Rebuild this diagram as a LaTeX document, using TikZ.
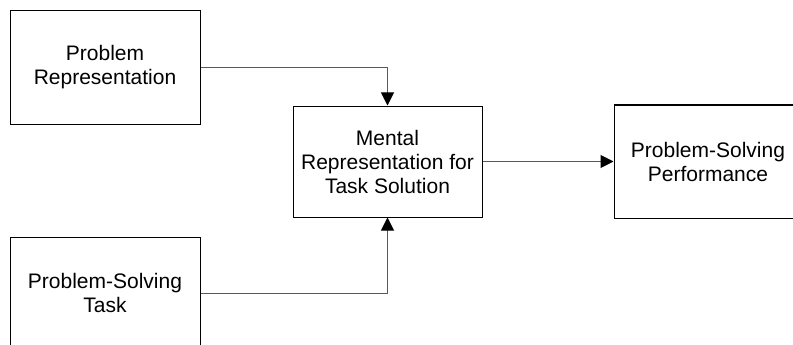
\documentclass[tikz,border=0pt]{standalone}
\usepackage{fontspec}
\setmainfont{Liberation Sans}
\usetikzlibrary{arrows.meta}
\begin{document}
\begin{tikzpicture}[x=1pt,y=-1pt,
  box/.style={draw=black, line width=1pt, align=center, inner sep=0pt,
    font=\fontsize{21}{24}\selectfont},
  link/.style={draw=black!65, line width=1pt,
    -{Triangle[length=13pt,width=13pt,fill=black,color=black]}}]
  \useasboundingbox (0,0) rectangle (793,345);
  \clip (0,0) rectangle (793,345);
  \node[box, minimum width=190pt, minimum height=113pt] (rep) at (105,67.5) {Problem\\Representation};
  \node[box, minimum width=190pt, minimum height=112pt] (task) at (105,293) {Problem-Solving\\Task};
  \node[box, minimum width=189pt, minimum height=111pt] (mental) at (387.5,161.5) {Mental\\Representation for\\Task Solution};
  \node[box, minimum width=188pt, minimum height=113pt] (perf) at (708,161.5) {Problem-Solving\\Performance};
  \draw[link] (rep.east) -| (mental.north);
  \draw[link] (task.east) -| (mental.south);
  \draw[link] (mental.east) -- (perf.west);
\end{tikzpicture}
\end{document}
